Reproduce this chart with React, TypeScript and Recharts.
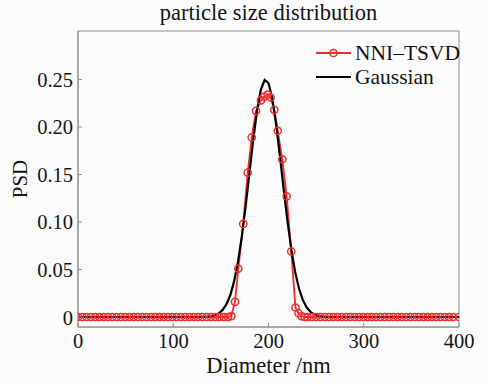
import React from 'react';
import { LineChart, Line, XAxis, YAxis, ReferenceArea } from 'recharts';

// NNI-TSVD reconstruction
const nniDiameter = [
  0, 4.5, 9, 13.5, 18, 22.5, 27, 31.5, 36, 40.5, 45, 49.5, 54, 58.5, 63, 67.5, 72, 76.5,
  81, 85.5, 90, 94.5, 99, 103.5, 108, 112.5, 117, 121.5, 126, 130.5, 135, 139.5, 144, 148.5,
  153, 157.5,
  161, 164.8, 168.3, 173.5, 178.2, 182.4, 186.9, 192.1, 195.6, 199.2, 202.2, 206.1, 209.7,
  214.5, 219.1, 223.9, 228.3, 231.5, 234.5, 238,
  241, 245.5, 250, 254.5, 259, 263.5, 268, 272.5, 277, 281.5, 286, 290.5, 295, 299.5, 304,
  308.5, 313, 317.5, 322, 326.5, 331, 335.5, 340, 344.5, 349, 353.5, 358, 362.5, 367, 371.5,
  376, 380.5, 385, 389.5, 394, 400,
];
const nniPsd = [
  0, 0, 0, 0, 0, 0, 0, 0, 0, 0, 0, 0, 0, 0, 0, 0, 0, 0,
  0, 0, 0, 0, 0, 0, 0, 0, 0, 0, 0, 0, 0, 0, 0, 0,
  0, 0,
  0.001, 0.016, 0.051, 0.098, 0.152, 0.189, 0.217, 0.228, 0.232, 0.234, 0.231, 0.218, 0.196,
  0.166, 0.127, 0.069, 0.01, 0.004, 0.001, 0,
  0, 0, 0, 0, 0, 0, 0, 0, 0, 0, 0, 0, 0, 0, 0,
  0, 0, 0, 0, 0, 0, 0, 0, 0, 0, 0, 0, 0, 0, 0,
  0, 0, 0, 0, 0, 0,
];

// Gaussian reference curve
const gaussDiameter = [
  0, 20, 40, 60, 80, 100, 120, 132,
  136, 140, 144, 148, 152, 156, 160, 164, 168, 172, 176, 180, 184, 188, 192, 196,
  200, 204, 208, 212, 216, 220, 224, 228, 232, 236, 240, 244, 248, 252, 256,
  260, 280, 300, 320, 340, 360, 380, 400,
];
const gaussPsd = [
  0, 0, 0, 0, 0, 0, 0, 0.0001,
  0.0004, 0.0009, 0.0019, 0.0039, 0.0075, 0.0137, 0.0234, 0.038, 0.0584, 0.0848, 0.1166,
  0.1516, 0.1867, 0.2173, 0.2394, 0.2496,
  0.2461, 0.2297, 0.2028, 0.1694, 0.1339, 0.1001, 0.0708, 0.0474, 0.03, 0.018, 0.0102,
  0.0055, 0.0028, 0.0013, 0.0006,
  0.0002, 0, 0, 0, 0, 0, 0, 0,
];

const xTicks = [0, 100, 200, 300, 400];
const yTicks = [0, 0.05, 0.1, 0.15, 0.2, 0.25];
const xDomain = [0, 400];
const yDomain = [-0.0105, 0.301];

const nniData = nniDiameter.map((d, i) => ({ d, psd: nniPsd[i] }));
const gaussData = gaussDiameter.map((d, i) => ({ d, psd: gaussPsd[i] }));

const FONT = '"Liberation Serif", "Times New Roman", serif';
const RED = '#f02c2c';
const AXIS = '#8e8e8e';
const INK = '#141414';

const XTick = (props: any) => {
  const { x, y, payload } = props;
  return (
    <g>
      <line x1={x} y1={y} x2={x} y2={y - 4} stroke={AXIS} />
      <text x={x} y={y + 21} textAnchor="middle" fontSize={20.5} fontFamily={FONT} fill={INK}>
        {payload.value}
      </text>
    </g>
  );
};

const YTick = (props: any) => {
  const { x, y, payload } = props;
  const v = payload.value;
  return (
    <g>
      <line x1={x} y1={y} x2={x + 4} y2={y} stroke={AXIS} />
      <text x={x - 5} y={y + 7.5} textAnchor="end" fontSize={20.5} fontFamily={FONT} fill={INK}>
        {v === 0 ? '0' : v.toFixed(2)}
      </text>
    </g>
  );
};

// legend drawn as an overlay so it does not shrink the plot area
const ChartLegend = () => (
  <svg width={170} height={50} style={{ position: 'absolute', left: 310, top: 40 }}>
    <line x1={6} y1={13} x2={41} y2={13} stroke={RED} strokeWidth={1.8} />
    <circle cx={23.5} cy={13} r={3.6} fill="none" stroke={RED} strokeWidth={1.5} />
    <text x={45} y={20} fontSize={21.5} fontFamily={FONT} fill={INK}>NNI–TSVD</text>
    <line x1={6} y1={37} x2={41} y2={37} stroke="#000" strokeWidth={2} />
    <text x={45} y={44} fontSize={21.5} fontFamily={FONT} fill={INK}>Gaussian</text>
  </svg>
);

export default function App() {
  return (
    <div style={{ position: 'absolute', left: 0, top: 0, width: 488, height: 384, background: '#fbfbfb' }}>
      <div
        style={{
          position: 'absolute', top: 1, left: 78, width: 381, textAlign: 'center',
          fontFamily: FONT, fontSize: 22.5, lineHeight: '24px', color: INK,
        }}
      >
        particle size distribution
      </div>
      <LineChart width={488} height={384} margin={{ top: 31, right: 29, left: 0, bottom: 0 }}>
        <XAxis
          dataKey="d"
          type="number"
          domain={xDomain}
          ticks={xTicks}
          height={57}
          tickSize={0}
          tickMargin={0}
          tick={<XTick />}
          stroke={AXIS}
          allowDataOverflow
          label={{ value: 'Diameter /nm', position: 'insideBottom', offset: 11, fontSize: 22.5, fontFamily: FONT, fill: INK }}
        />
        <YAxis
          type="number"
          domain={yDomain}
          ticks={yTicks}
          width={78}
          tickSize={0}
          tickMargin={0}
          tick={<YTick />}
          stroke={AXIS}
          allowDataOverflow
          label={{ value: 'PSD', angle: -90, position: 'insideLeft', offset: 20, fontSize: 21, fontFamily: FONT, fill: INK, style: { textAnchor: 'middle' } }}
        />
        <ReferenceArea
          x1={xDomain[0]}
          x2={xDomain[1]}
          y1={yDomain[0]}
          y2={yDomain[1]}
          fill="none"
          stroke={AXIS}
          strokeWidth={1}
          ifOverflow="visible"
        />
        <Line
          data={nniData}
          dataKey="psd"
          stroke={RED}
          strokeWidth={1.8}
          dot={{ r: 3.6, stroke: RED, strokeWidth: 1.5, fill: 'none' }}
          isAnimationActive={false}
        />
        <Line
          data={gaussData}
          dataKey="psd"
          stroke="#000"
          strokeWidth={2.2}
          dot={false}
          isAnimationActive={false}
        />
      </LineChart>
      <ChartLegend />
    </div>
  );
}
